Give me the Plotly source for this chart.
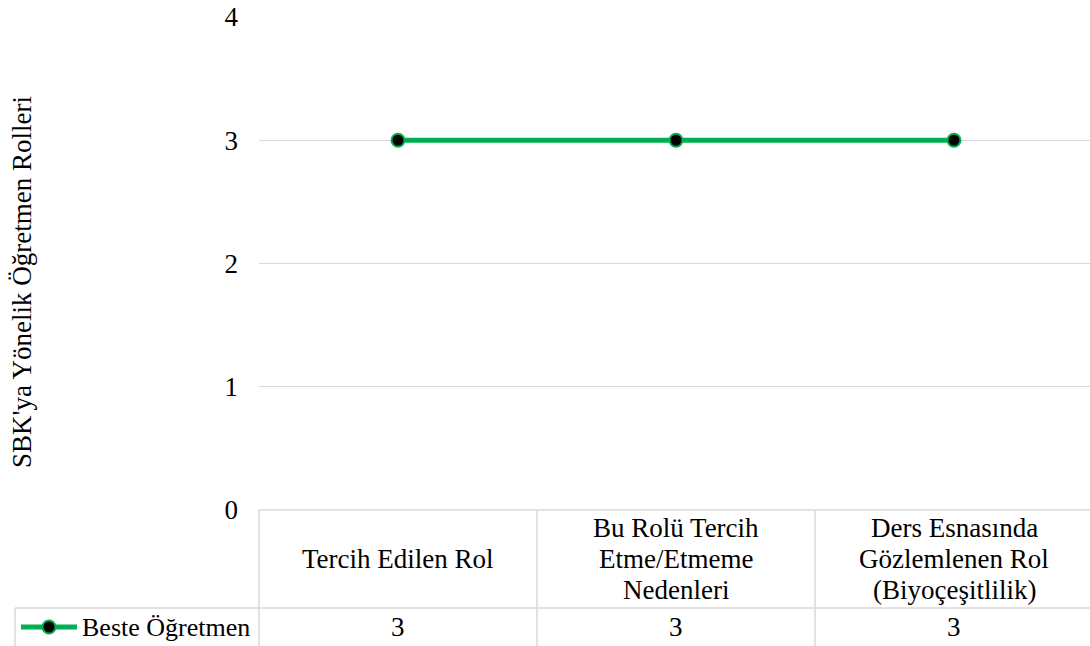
import plotly.graph_objects as go

# Data
categories = [
    ["Tercih Edilen Rol"],
    ["Bu Rolü Tercih", "Etme/Etmeme", "Nedenleri"],
    ["Ders Esnasında", "Gözlemlenen Rol", "(Biyoçeşitlilik)"],
]
series_name = "Beste Öğretmen"
series_values = [3, 3, 3]
y_ticks = [0, 1, 2, 3, 4]
y_title = "SBK'ya Yönelik Öğretmen Rolleri"

# Page geometry (pixels)
W, H = 1090, 646
M_L, M_T, M_B = 259, 17, 136
PLOT_W = W - M_L
PLOT_H = H - M_T - M_B
X_RANGE = [-0.5, -0.5 + PLOT_W / 278.0]

FONT = "Liberation Serif, Times New Roman, serif"
FS = 27
GREEN = "#00B050"
GRID = "#D9D9D9"


def px_x(p):
    return (p - M_L) / PLOT_W


def px_y(p):
    return (H - M_B - p) / PLOT_H


def data_x(v):
    return (v - X_RANGE[0]) / (X_RANGE[1] - X_RANGE[0])


xs = list(range(len(categories)))

fig = go.Figure()
fig.add_trace(go.Scatter(
    x=xs, y=series_values, mode="lines+markers", name=series_name,
    line=dict(color=GREEN, width=5),
    marker=dict(size=13, color="black", line=dict(color=GREEN, width=2)),
    hoverinfo="skip", showlegend=False,
))

shapes = []
line_style = dict(color=GRID, width=1.5)
row_top = px_y(510)
row_mid = px_y(608)
row_bot = px_y(H + 5)

# table top border (value axis baseline)
shapes.append(dict(type="line", xref="paper", yref="paper",
                   x0=0, x1=1.01, y0=row_top, y1=row_top, line=line_style))
# header / data separator, extending into legend column
shapes.append(dict(type="line", xref="paper", yref="paper",
                   x0=px_x(15), x1=1.01, y0=row_mid, y1=row_mid, line=line_style))
# legend column left border
shapes.append(dict(type="line", xref="paper", yref="paper",
                   x0=px_x(15), x1=px_x(15), y0=row_mid, y1=row_bot, line=line_style))
# column borders
for i in range(len(categories) + 1):
    xb = data_x(i - 0.5)
    shapes.append(dict(type="line", xref="paper", yref="paper",
                       x0=xb, x1=xb, y0=row_top, y1=row_bot, line=line_style))

# legend key in data table
shapes.append(dict(type="line", xref="paper", yref="paper",
                   x0=px_x(21), x1=px_x(77), y0=px_y(627), y1=px_y(627),
                   line=dict(color=GREEN, width=5)))
shapes.append(dict(type="circle", xref="paper", yref="paper",
                   x0=px_x(42.5), x1=px_x(55.5), y0=px_y(620.5), y1=px_y(633.5),
                   fillcolor="black", line=dict(color=GREEN, width=2)))

annotations = []
header_center = 559
line_gap = 31
for i, lines in enumerate(categories):
    n = len(lines)
    for j, t in enumerate(lines):
        yc = header_center + (j - (n - 1) / 2) * line_gap
        annotations.append(dict(
            x=i, xref="x", y=px_y(yc), yref="paper", text=t, showarrow=False,
            xanchor="center", yanchor="middle", font=dict(family=FONT, size=FS, color="black"),
        ))
    annotations.append(dict(
        x=i, xref="x", y=px_y(627), yref="paper", text=str(series_values[i]), showarrow=False,
        xanchor="center", yanchor="middle", font=dict(family=FONT, size=FS, color="black"),
    ))

annotations.append(dict(
    x=px_x(80), xref="paper", y=px_y(627), yref="paper", text=series_name, showarrow=False,
    xanchor="left", yanchor="middle", font=dict(family=FONT, size=26, color="black"),
))
annotations.append(dict(
    x=px_x(22), xref="paper", y=px_y(282), yref="paper", text=y_title, showarrow=False,
    textangle=-90, xanchor="center", yanchor="middle",
    font=dict(family=FONT, size=FS, color="black"),
))

fig.update_layout(
    width=W, height=H,
    margin=dict(l=M_L, r=0, t=M_T, b=M_B),
    paper_bgcolor="white", plot_bgcolor="white",
    font=dict(family=FONT, size=FS, color="black"),
    xaxis=dict(range=X_RANGE, showgrid=False, zeroline=False, showticklabels=False,
               showline=False, fixedrange=True),
    yaxis=dict(range=[0, 4], tickvals=y_ticks, ticktext=[str(v) for v in y_ticks],
               showgrid=True, gridcolor=GRID, gridwidth=1, zeroline=False, showline=False,
               ticklabelstandoff=20, tickfont=dict(family=FONT, size=FS, color="black"),
               fixedrange=True),
    shapes=shapes,
    annotations=annotations,
    showlegend=False,
)

fig.write_html("out.html")
